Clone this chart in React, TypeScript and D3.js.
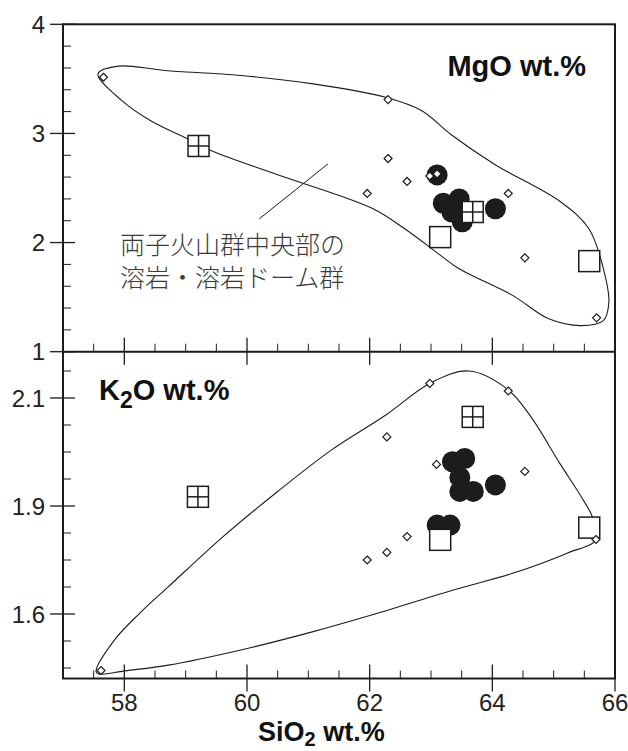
import React from "react";
import * as d3 from "d3";

// ---------- axes ----------
const sio2Ticks = [58, 60, 62, 64, 66];
const mgoTicks = [1, 2, 3, 4];
const k2oTicks = [1.6, 1.9, 2.1];
const k2oTickLabels = ["1.6", "1.9", "2.1"];
const k2oMinor = [2.15, 2.05, 2.0, 1.95, 1.825, 1.75, 1.675, 1.525, 1.45];

// ---------- MgO panel data ----------
const mgoDiamondSi = [57.66, 62.3, 62.3, 62.61, 61.96, 62.98, 63.1, 64.26, 64.53, 65.7];
const mgoDiamondV = [3.515, 3.31, 2.77, 2.56, 2.45, 2.61, 2.63, 2.45, 1.86, 1.31];
const mgoCircleSi = [63.1, 63.2, 63.46, 63.34, 63.51, 64.05];
const mgoCircleV = [2.62, 2.36, 2.4, 2.28, 2.19, 2.31];
const mgoHatchSi = [59.21, 63.68];
const mgoHatchV = [2.885, 2.28];
const mgoOpenSi = [63.15, 65.58];
const mgoOpenV = [2.05, 1.83];
const mgoEnvSi = [57.57, 57.9, 58.66, 59.9, 61.08, 62.26, 62.85, 63.32, 64.04, 65.1, 65.57, 65.81, 65.9, 65.81, 65.45, 64.92, 64.33, 63.45, 63.15, 62.56, 62.03, 60.49, 59.43, 59.05, 58.43, 57.96];
const mgoEnvV = [3.546, 3.617, 3.577, 3.531, 3.454, 3.331, 3.208, 2.993, 2.716, 2.378, 2.131, 1.762, 1.455, 1.285, 1.239, 1.301, 1.516, 1.762, 1.885, 2.131, 2.316, 2.623, 2.839, 2.946, 3.116, 3.3];

// ---------- K2O panel data ----------
const k2oDiamondSi = [57.62, 62.98, 64.26, 62.28, 63.09, 64.53, 62.61, 62.28, 61.96, 65.69];
const k2oDiamondV = [1.443, 2.127, 2.113, 2.028, 1.977, 1.964, 1.815, 1.771, 1.75, 1.807];
const k2oCircleSi = [63.35, 63.55, 63.47, 63.47, 63.69, 64.05, 63.1, 63.31];
const k2oCircleV = [1.982, 1.988, 1.953, 1.927, 1.927, 1.939, 1.847, 1.847];
const k2oHatchSi = [59.2, 63.68];
const k2oHatchV = [1.917, 2.065];
const k2oOpenSi = [63.15, 65.58];
const k2oOpenV = [1.806, 1.84];
const k2oEnvSi = [57.54, 57.84, 58.25, 58.72, 59.61, 60.49, 61.38, 62.27, 62.98, 63.62, 64.26, 64.63, 65.1, 65.45, 65.63, 65.69, 65.22, 64.33, 63.45, 62.03, 61.08, 59.9, 58.72, 58.01, 57.6];
const k2oEnvV = [1.44, 1.528, 1.602, 1.676, 1.815, 1.926, 2.004, 2.069, 2.127, 2.15, 2.115, 2.065, 1.979, 1.917, 1.87, 1.807, 1.769, 1.713, 1.671, 1.597, 1.551, 1.5, 1.458, 1.442, 1.433];

const noteLine1 = "両子火山群中央部の";
const noteLine2 = "溶岩・溶岩ドーム群";

// ---------- layout ----------
const W = 628, H = 751;
const L = 63, R = 615, T = 24.3, MID = 351.7, B = 678.5;

const x = d3.scaleLinear().domain([57, 66]).range([L, R]);
const yMg = d3.scaleLinear().domain([1, 4]).range([MID, T]);
const yK = d3.scaleLinear().domain([1.6, 1.9, 2.1]).range([614, 506, 398]);

const FONT = "'Liberation Sans', Arial, Helvetica, sans-serif";
const INK = "#1c1c1c";

function Diamond({ cx, cy }: { cx: number; cy: number }) {
  const s = 4;
  return (
    <path
      d={`M${cx},${cy - s}L${cx + s},${cy}L${cx},${cy + s}L${cx - s},${cy}Z`}
      fill="#fff"
      stroke={INK}
      strokeWidth={1.2}
    />
  );
}

function Square({ cx, cy, hatch }: { cx: number; cy: number; hatch: boolean }) {
  const h = 10.5;
  return (
    <g>
      <rect x={cx - h} y={cy - h} width={2 * h} height={2 * h} fill="#fff" stroke={INK} strokeWidth={1.5} />
      {hatch && (
        <>
          <line x1={cx} x2={cx} y1={cy - h} y2={cy + h} stroke={INK} strokeWidth={1.5} />
          <line x1={cx - h} x2={cx + h} y1={cy} y2={cy} stroke={INK} strokeWidth={1.5} />
        </>
      )}
    </g>
  );
}

function Panel({ y, envSi, envV, dSi, dV, cSi, cV, hSi, hV, oSi, oV }: any) {
  const line = d3
    .line<number>()
    .x((_, i) => x(envSi[i]))
    .y((_, i) => y(envV[i]))
    .curve(d3.curveCatmullRomClosed.alpha(0.5));
  return (
    <g>
      <path d={line(envSi) || ""} fill="none" stroke={INK} strokeWidth={1.1} />
      {cSi.map((s: number, i: number) => (
        <circle key={"c" + i} cx={x(s)} cy={y(cV[i])} r={10.5} fill={INK} />
      ))}
      {hSi.map((s: number, i: number) => (
        <Square key={"h" + i} cx={x(s)} cy={y(hV[i])} hatch={true} />
      ))}
      {oSi.map((s: number, i: number) => (
        <Square key={"o" + i} cx={x(s)} cy={y(oV[i])} hatch={false} />
      ))}
      {dSi.map((s: number, i: number) => (
        <Diamond key={"d" + i} cx={x(s)} cy={y(dV[i])} />
      ))}
    </g>
  );
}

export default function App() {
  const xMinor = d3.range(57.5, 66, 0.5).filter((v) => !sio2Ticks.includes(v));
  const mgMinor = d3.range(1.2, 4, 0.2).filter((v) => Math.abs(v - Math.round(v)) > 0.01);

  return (
    <svg width={W} height={H} style={{ position: "absolute", left: 0, top: 0, background: "#fff" }} fontFamily={FONT}>
      <rect x={0} y={0} width={W} height={H} fill="#fff" />

      <Panel
        y={yMg}
        envSi={mgoEnvSi}
        envV={mgoEnvV}
        dSi={mgoDiamondSi}
        dV={mgoDiamondV}
        cSi={mgoCircleSi}
        cV={mgoCircleV}
        hSi={mgoHatchSi}
        hV={mgoHatchV}
        oSi={mgoOpenSi}
        oV={mgoOpenV}
      />
      <Panel
        y={yK}
        envSi={k2oEnvSi}
        envV={k2oEnvV}
        dSi={k2oDiamondSi}
        dV={k2oDiamondV}
        cSi={k2oCircleSi}
        cV={k2oCircleV}
        hSi={k2oHatchSi}
        hV={k2oHatchV}
        oSi={k2oOpenSi}
        oV={k2oOpenV}
      />

      {/* annotation */}
      <line x1={x(61.32)} y1={yMg(2.721)} x2={x(60.2)} y2={yMg(2.217)} stroke={INK} strokeWidth={1} />
      <g fontFamily="'Noto Sans CJK JP', sans-serif" fontSize={25} fill="#3a3a3a" fontWeight={300}>
        <text x={120} y={243} dominantBaseline="central">{noteLine1}</text>
        <text x={120} y={276} dominantBaseline="central">{noteLine2}</text>
      </g>

      {/* frame */}
      <rect x={L} y={T} width={R - L} height={B - T} fill="none" stroke={INK} strokeWidth={2} />
      <line x1={L} x2={R} y1={MID} y2={MID} stroke={INK} strokeWidth={2} />

      {/* x ticks on divider and bottom */}
      {[MID, B].map((yy, k) => (
        <g key={"xt" + k} stroke={INK}>
          {sio2Ticks.map((t) => (
            <line key={t} x1={x(t)} x2={x(t)} y1={yy - 14} y2={yy + 13} strokeWidth={1.3} />
          ))}
          {xMinor.map((t) => (
            <line key={t} x1={x(t)} x2={x(t)} y1={yy} y2={yy - 8} strokeWidth={1} />
          ))}
        </g>
      ))}

      {/* y ticks */}
      <g stroke={INK}>
        {mgoTicks.map((t) => (
          <line key={t} x1={L - 13} x2={L + 12} y1={yMg(t)} y2={yMg(t)} strokeWidth={1.3} />
        ))}
        {mgMinor.map((t) => (
          <line key={t} x1={L} x2={L + 8} y1={yMg(t)} y2={yMg(t)} strokeWidth={1} />
        ))}
        {k2oTicks.map((t) => (
          <line key={t} x1={L - 13} x2={L + 12} y1={yK(t)} y2={yK(t)} strokeWidth={1.3} />
        ))}
        {k2oMinor.map((t) => (
          <line key={t} x1={L} x2={L + 8} y1={yK(t)} y2={yK(t)} strokeWidth={1} />
        ))}
      </g>

      {/* tick labels */}
      <g fontSize={24} fill="#222">
        {mgoTicks.map((t) => (
          <text key={t} x={45} y={yMg(t)} dy="0.36em" textAnchor="end">
            {String(t)}
          </text>
        ))}
        {k2oTicks.map((t, i) => (
          <text key={t} x={45} y={yK(t)} dy="0.36em" textAnchor="end">
            {k2oTickLabels[i]}
          </text>
        ))}
        {sio2Ticks.map((t) => (
          <text key={t} x={x(t)} y={711} textAnchor="middle">
            {String(t)}
          </text>
        ))}
      </g>

      {/* panel titles */}
      <g fontWeight="bold" fill="#111">
        <text x={586} y={75.7} fontSize={29} textAnchor="end">MgO wt.%</text>
        <text x={99} y={400} fontSize={29}>
          K<tspan dy={8} fontSize={23}>2</tspan>
          <tspan dy={-8}>O wt.%</tspan>
        </text>
        <text x={258} y={741} fontSize={27}>
          SiO<tspan dy={5} fontSize={20}>2</tspan>
          <tspan dy={-5}> wt.%</tspan>
        </text>
      </g>
    </svg>
  );
}
